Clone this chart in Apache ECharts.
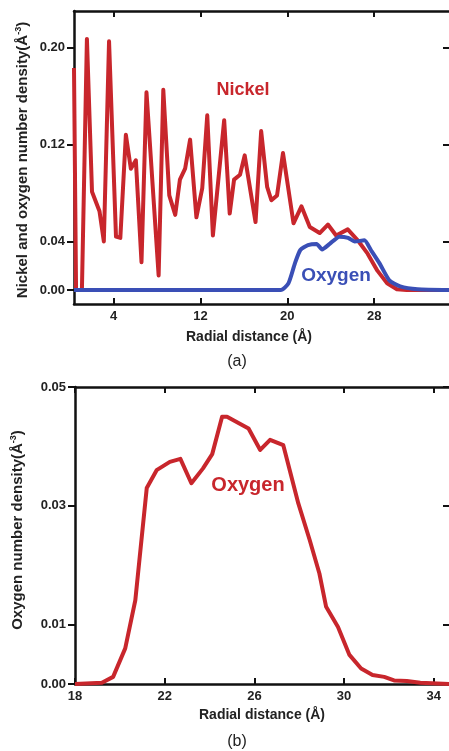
<!DOCTYPE html>
<html>
<head>
<meta charset="utf-8">
<script src="https://cdn.jsdelivr.net/npm/echarts@6/dist/echarts.min.js"></script>
<style>
html,body{margin:0;padding:0;background:#fff;overflow:hidden;}
#c{width:449px;height:751px;}
</style>
</head>
<body>
<div id="c"></div>
<script>
// ---- Panel (a): nickel and oxygen number density vs radial distance ----
const nickelX = [0.34,0.53,1.07,1.53,2.0,2.69,3.09,3.57,4.21,4.61,5.12,5.58,6.04,6.56,7.02,8.14,8.57,9.12,9.67,10.1,10.58,11.04,11.62,12.16,12.62,13.14,14.18,14.69,15.09,15.64,16.07,17.07,17.59,18.14,18.53,19.05,19.6,20.57,21.3,22.07,22.98,23.74,24.5,25.57,26.49,27.4,28.3,29.2,30.1,31.0,34.9];
const nickelY = [0.183,0,0,0.207,0.081,0.065,0.040,0.205,0.044,0.043,0.128,0.100,0.107,0.023,0.163,0.012,0.165,0.078,0.062,0.091,0.100,0.124,0.060,0.084,0.144,0.045,0.140,0.063,0.091,0.095,0.111,0.056,0.131,0.085,0.074,0.078,0.113,0.055,0.069,0.052,0.047,0.054,0.045,0.050,0.041,0.030,0.016,0.0055,0.0006,0,0];
const oxyTopX = [0.34,19.4,20.1,20.7,21.2,21.9,22.7,23.2,23.9,24.8,25.6,26.2,27.1,27.7,28.5,29.4,30.4,32.0,34.9];
const oxyTopY = [0,0,0.0055,0.022,0.033,0.037,0.038,0.0335,0.038,0.044,0.043,0.040,0.041,0.033,0.022,0.008,0.003,0.0006,0];
const ticksAX = [4,12,20,28];
const ticksAY = [0,0.04,0.12,0.20];

// ---- Panel (b): oxygen number density vs radial distance ----
const oxyX = [18,19.2,19.7,20.24,20.69,21.2,21.64,22.23,22.7,23.19,23.71,24.12,24.56,24.78,25.74,26.26,26.7,27.29,27.96,28.47,28.9,29.2,29.73,30.24,30.76,31.27,31.79,32.23,32.8,33.4,34.7];
const oxyY = [0,0.0002,0.0012,0.006,0.0141,0.033,0.036,0.0374,0.0379,0.0338,0.0363,0.0387,0.045,0.045,0.043,0.0394,0.0411,0.0402,0.0304,0.0242,0.0186,0.013,0.0096,0.0049,0.0026,0.0015,0.0012,0.0006,0.0005,0.0002,0];
const ticksBX = [18,22,26,30,34];
const ticksBY = [0,0.01,0.03,0.05];

const zip = (xs, ys) => xs.map((x, i) => [x, ys[i]]);
const RED = '#c8262c';
const BLUE = '#3a4fb6';
const FF = 'Liberation Sans, Arial, sans-serif';

const axLine = {show: true, onZero: false, lineStyle: {color: '#111', width: 2.5}};
const noLine = {show: false};
const lbl = (vals, margin, fmt) => ({show: true, customValues: vals, margin: margin, fontFamily: FF, fontWeight: 'bold', fontSize: 13, color: '#222', formatter: fmt});
const tickIn = (vals) => ({show: true, customValues: vals, inside: true, length: 6, lineStyle: {color: '#111', width: 2}});
const tickOut = (vals) => ({show: true, customValues: vals, inside: false, length: 7, lineStyle: {color: '#111', width: 2}});
const noLbl = {show: false};

const chart = echarts.init(document.getElementById('c'), null, {renderer: 'canvas'});

const titleStyle = (txt, size) => ({
  text: '{t|' + txt + '}{s|-3}{t|)}',
  rich: {
    t: {fontFamily: FF, fontWeight: 'bold', fontSize: size, fill: '#222', lineHeight: size + 2},
    s: {fontFamily: FF, fontWeight: 'bold', fontSize: Math.round(size * 0.6), fill: '#222', verticalAlign: 'top', lineHeight: size + 2}
  },
  align: 'center', verticalAlign: 'middle'
});

chart.setOption({
  animation: false,
  backgroundColor: '#fff',
  grid: [
    {left: 74, top: 11, width: 378, height: 293, containLabel: false},
    {left: 75, top: 387, width: 377, height: 297, containLabel: false}
  ],
  xAxis: [
    {type: 'value', gridIndex: 0, min: 0.34, max: 34.9, position: 'bottom',
     axisLine: axLine, axisTick: tickIn(ticksAX), axisLabel: lbl(ticksAX, 6, v => String(v)), splitLine: {show: false}},
    {type: 'value', gridIndex: 0, min: 0.34, max: 34.9, position: 'top',
     axisLine: axLine, axisTick: tickIn(ticksAX), axisLabel: noLbl, splitLine: {show: false}},
    {type: 'value', gridIndex: 1, min: 18, max: 34.68, position: 'bottom',
     axisLine: axLine, axisTick: tickIn(ticksBX), axisLabel: lbl(ticksBX, 6, v => String(v)), splitLine: {show: false}},
    {type: 'value', gridIndex: 1, min: 18, max: 34.68, position: 'top',
     axisLine: axLine, axisTick: tickIn(ticksBX), axisLabel: noLbl, splitLine: {show: false}}
  ],
  yAxis: [
    {type: 'value', gridIndex: 0, min: -0.0115, max: 0.230, position: 'left',
     axisLine: axLine, axisTick: tickOut(ticksAY), axisLabel: lbl(ticksAY, 9, v => v.toFixed(2)), splitLine: {show: false}},
    {type: 'value', gridIndex: 0, min: -0.0115, max: 0.230, position: 'right',
     axisLine: noLine, axisTick: tickIn(ticksAY), axisLabel: noLbl, splitLine: {show: false}},
    {type: 'value', gridIndex: 1, min: 0, max: 0.05, position: 'left',
     axisLine: axLine, axisTick: tickOut(ticksBY), axisLabel: lbl(ticksBY, 9, v => v.toFixed(2)), splitLine: {show: false}},
    {type: 'value', gridIndex: 1, min: 0, max: 0.05, position: 'right',
     axisLine: noLine, axisTick: tickIn(ticksBY), axisLabel: noLbl, splitLine: {show: false}}
  ],
  series: [
    {name: 'Nickel', type: 'line', xAxisIndex: 0, yAxisIndex: 0, data: zip(nickelX, nickelY),
     showSymbol: false, symbol: 'none', lineStyle: {color: RED, width: 4, join: 'round'}, z: 2},
    {name: 'Oxygen', type: 'line', xAxisIndex: 0, yAxisIndex: 0, data: zip(oxyTopX, oxyTopY), smooth: 0.2,
     showSymbol: false, symbol: 'none', lineStyle: {color: BLUE, width: 4, join: 'round'}, z: 3},
    {name: 'Oxygen (b)', type: 'line', xAxisIndex: 2, yAxisIndex: 2, data: zip(oxyX, oxyY),
     showSymbol: false, symbol: 'none', lineStyle: {color: RED, width: 4, join: 'round'}, z: 2}
  ],
  graphic: [
    {type: 'text', x: 23, y: 160, rotation: Math.PI / 2, style: titleStyle('Nickel and oxygen number density(Å', 15), z: 10},
    {type: 'text', x: 249, y: 337, style: {text: 'Radial distance (Å)', fontFamily: FF, fontWeight: 'bold', fontSize: 14, fill: '#222', align: 'center', verticalAlign: 'middle'}},
    {type: 'text', x: 237, y: 362, style: {text: '(a)', fontFamily: FF, fontSize: 16, fill: '#222', align: 'center', verticalAlign: 'middle'}},
    {type: 'text', x: 243, y: 90, style: {text: 'Nickel', fontFamily: FF, fontWeight: 'bold', fontSize: 18, fill: RED, align: 'center', verticalAlign: 'middle'}},
    {type: 'text', x: 336, y: 276, style: {text: 'Oxygen', fontFamily: FF, fontWeight: 'bold', fontSize: 19, fill: BLUE, align: 'center', verticalAlign: 'middle'}},
    {type: 'text', x: 18, y: 530, rotation: Math.PI / 2, style: titleStyle('Oxygen number density(Å', 15), z: 10},
    {type: 'text', x: 262, y: 715, style: {text: 'Radial distance (Å)', fontFamily: FF, fontWeight: 'bold', fontSize: 14, fill: '#222', align: 'center', verticalAlign: 'middle'}},
    {type: 'text', x: 237, y: 742, style: {text: '(b)', fontFamily: FF, fontSize: 16, fill: '#222', align: 'center', verticalAlign: 'middle'}},
    {type: 'text', x: 248, y: 485, style: {text: 'Oxygen', fontFamily: FF, fontWeight: 'bold', fontSize: 20, fill: RED, align: 'center', verticalAlign: 'middle'}}
  ]
});
</script>
</body>
</html>
